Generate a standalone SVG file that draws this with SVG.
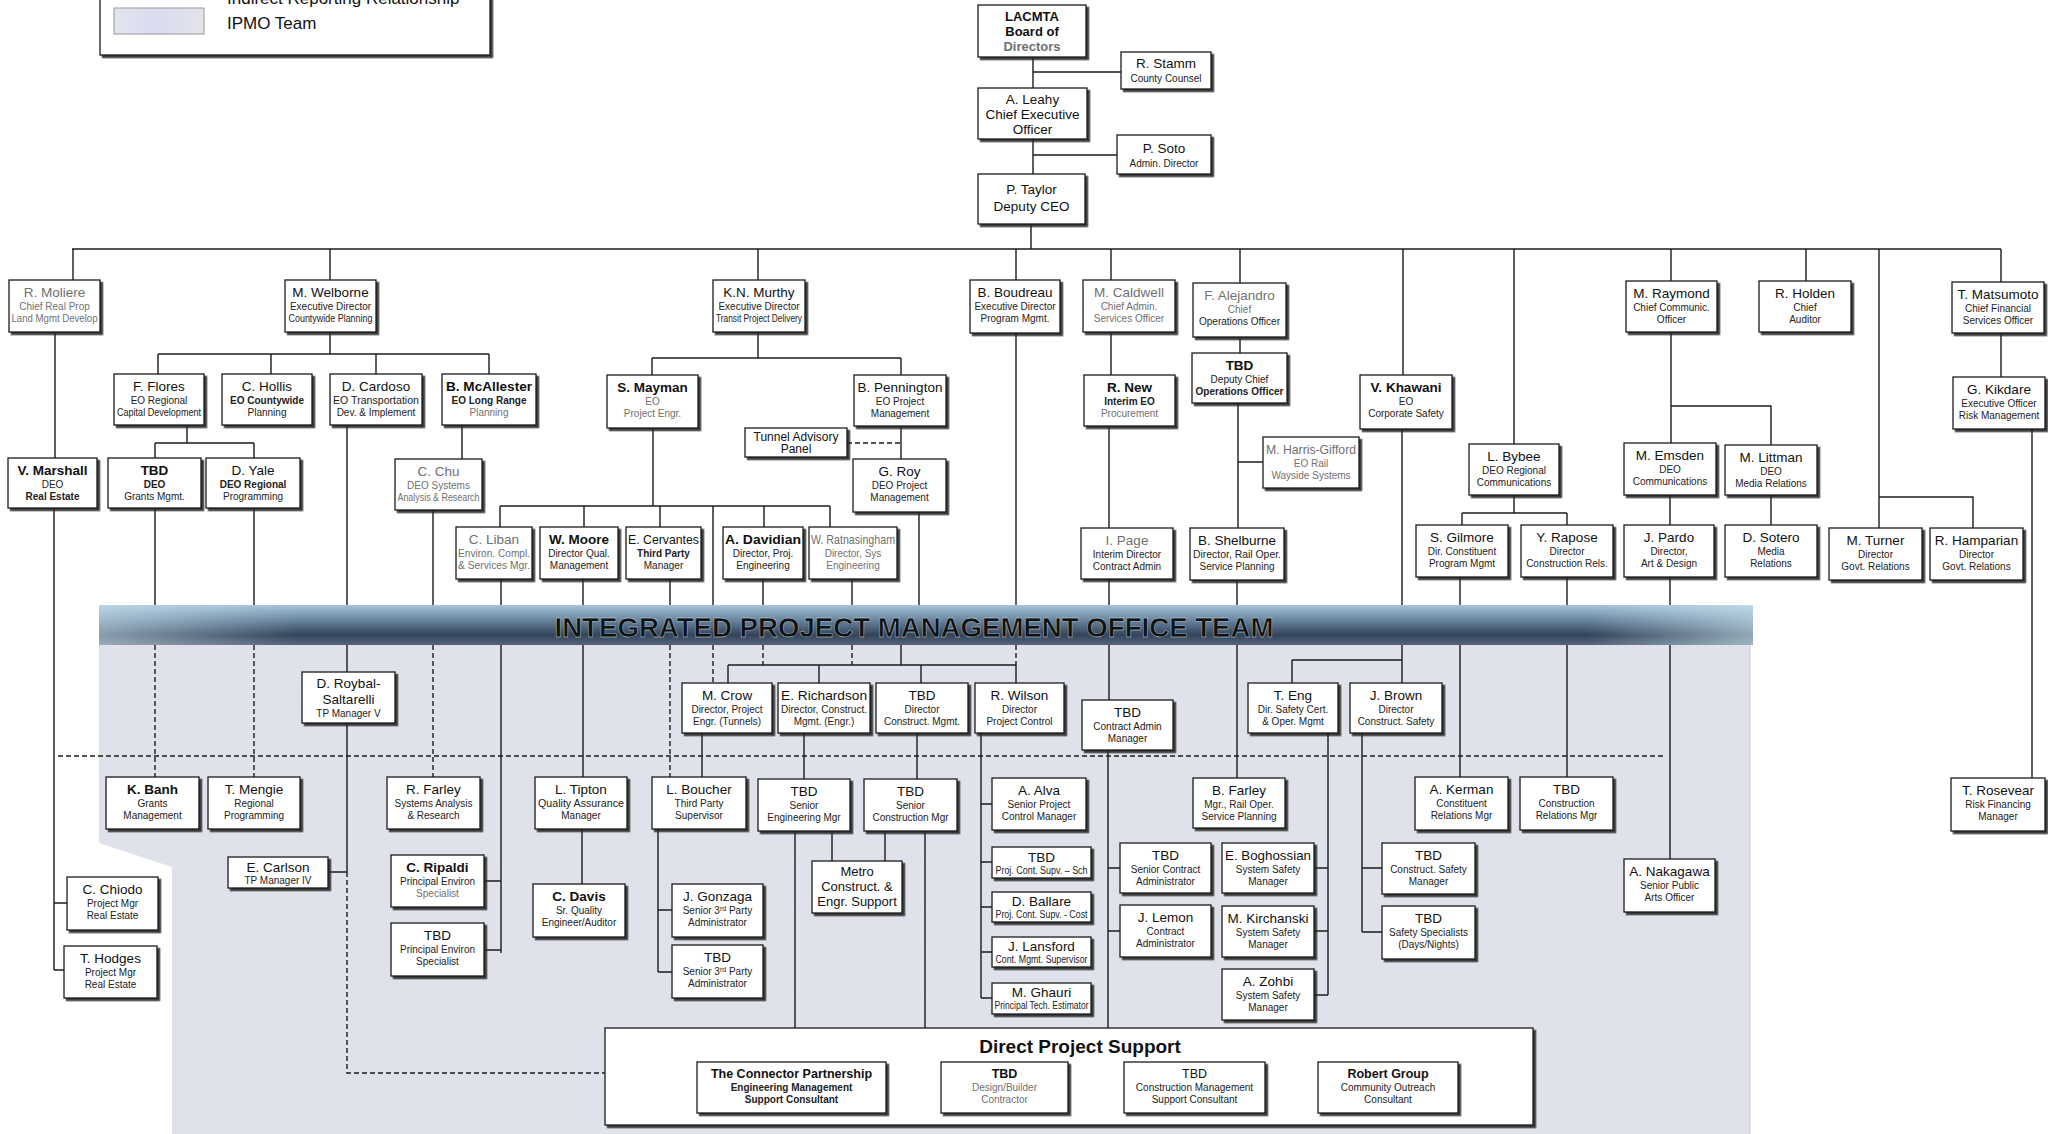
<svg xmlns="http://www.w3.org/2000/svg" width="2048" height="1134" viewBox="0 0 2048 1134">
<defs>
<filter id="sh" x="-10%" y="-10%" width="130%" height="150%"><feDropShadow dx="2.5" dy="2.5" stdDeviation="0.5" flood-color="#2a2a2a" flood-opacity="0.9"/></filter>
<linearGradient id="bg" x1="0" y1="0" x2="0" y2="1"><stop offset="0" stop-color="#a4c4d8"/><stop offset="0.35" stop-color="#6d8aa4"/><stop offset="0.75" stop-color="#33445a"/><stop offset="1" stop-color="#56667c"/></linearGradient>
<linearGradient id="bh" x1="0" y1="0" x2="1" y2="0"><stop offset="0" stop-color="#cfe4f0" stop-opacity="0.55"/><stop offset="0.12" stop-color="#cfe4f0" stop-opacity="0"/><stop offset="0.9" stop-color="#cfe4f0" stop-opacity="0"/><stop offset="1" stop-color="#cfeaf4" stop-opacity="0.6"/></linearGradient>
<linearGradient id="sw" x1="0" y1="0" x2="1" y2="0"><stop offset="0" stop-color="#e2e4ee"/><stop offset="0.5" stop-color="#d9dcf0"/><stop offset="1" stop-color="#e4e4ea"/></linearGradient>
</defs>
<style>
.c{fill:none;stroke:#1c1c1c;stroke-width:1.4}
.d{fill:none;stroke:#1c1c1c;stroke-width:1.4;stroke-dasharray:5 3}
.b{fill:#fff;stroke:#1a1a1a;stroke-width:1.3;filter:url(#sh)}
text{font-family:"Liberation Sans",Arial,sans-serif;text-anchor:middle;fill:#111}
.n{font-size:13.5px}
.t{font-size:10px;fill:#222}
.k{font-weight:bold}
.g{fill:#707070}
.l{text-anchor:start;font-size:17px}
</style>
<rect x="0" y="0" width="2048" height="1134" fill="#fff"/>

<g id="legend">
<rect class="b" x="100" y="-20" width="390" height="75"/>
<text class="l" x="227" y="4">Indirect Reporting Relationship</text>
<rect x="114" y="8" width="90" height="26" fill="url(#sw)" stroke="#9a9a9a" stroke-width="1"/>
<text class="l" x="227" y="29">IPMO Team</text>
</g>

<g id="ipmo-area">
<polygon points="99,645 1750,645 1750,1134 172,1134 172,867 99,843" fill="#dfe2eb"/>
<line x1="1750" y1="645" x2="1750" y2="1134" stroke="#c4c8d2" stroke-width="1"/>
</g>

<g id="connectors">
<path class="c" d="M1033,57V88 M1033,72H1121 M1033,139V174 M1033,155H1117 M1031,224V249 M72,249H2001 M73,249V280 M330,249V280 M758,249V280 M1016,249V280 M1111,249V280 M1240,249V283 M1403,249V375 M1514,249V444 M1671,249V281 M1806,249V281 M1879,249V528 M2001,249V282 M55,332V458 M54,508V970 M54,903H67 M54,970H64 M330,332V354 M158,354H489 M158,354V374 M271,354V374 M376,354V374 M489,354V374 M187,425V443 M155,443H254 M155,443V458 M254,443V458 M155,508V605 M254,508V605 M433,510V605 M347,425V672 M347,723V872 M328,872H347 M462,425V459 M758,332V358 M652,358H901 M652,358V375 M901,358V375 M653,428V506 M500,506H830 M500,506V527 M584,506V527 M660,506V527 M764,506V527 M830,506V527 M713,506V605 M901,426V459 M919,512V605 M901,645V665 M501,578V953 M484,881H501 M484,950H501 M583,578V777 M670,578V605 M763,580V605 M852,580V605 M1016,333V605 M728,665H1016 M728,665V683 M819,665V683 M921,665V683 M1016,665V683 M582,829V884 M702,733V777 M658,829V972 M658,910H672 M658,972H672 M804,733V779 M917,733V779 M795,831V1028 M832,831V861 M925,831V1028 M885,831V861 M981,733V998 M981,804H992 M981,862H992 M981,907H992 M981,952H992 M981,998H992 M1111,333V375 M1109,426V528 M1109,579V700 M1108,750V1028 M1108,868H1120 M1108,931H1120 M1240,337V353 M1238,403V528 M1238,462H1263 M1237,580V778 M1402,429V683 M1292,660H1402 M1292,660V683 M1328,733V995 M1314,868H1328 M1314,931H1328 M1314,995H1328 M1362,733V932 M1362,868H1382 M1362,932H1382 M1514,495V513 M1462,513H1567 M1462,513V525 M1567,513V525 M1460,577V777 M1567,577V777 M1671,332V443 M1671,406H1771V445 M1670,495V525 M1670,577V859 M1771,495V525 M1879,497H1973V528 M2001,333V377 M2032,429V778"/>
<path class="d" d="M155,645V777 M254,645V777 M433,645V777 M670,645V777 M713,645V683 M763,645V665 M852,645V665 M1016,645V665 M847,443H901 M347,872V1073H605 M58,756H1666"/>
</g>

<g id="banner">
<rect x="99" y="605" width="1654" height="40" fill="url(#bg)"/>
<rect x="99" y="605" width="1654" height="40" fill="url(#bh)"/>
<text x="914" y="637" font-size="27" font-weight="900" fill="#132a5c" stroke="#d6e2f0" stroke-width="0.35" textLength="719" lengthAdjust="spacingAndGlyphs">INTEGRATED PROJECT MANAGEMENT OFFICE TEAM</text>
</g>

<g id="n-board"><rect class="b" x="978" y="5" width="108" height="52"/><text class="k" font-size="13" x="1032" y="21">LACMTA</text><text class="k" font-size="13" x="1032" y="36">Board of</text><text class="k g" font-size="13" x="1032" y="51">Directors</text></g>
<g id="n-stamm"><rect class="b" x="1121" y="52" width="90" height="37"/><text class="n" x="1166" y="68">R. Stamm</text><text class="t" x="1166" y="82">County Counsel</text></g>
<g id="n-leahy"><rect class="b" x="978" y="88" width="109" height="51"/><text class="n" x="1032.5" y="104">A. Leahy</text><text class="n" x="1032.5" y="119">Chief Executive</text><text class="n" x="1032.5" y="134">Officer</text></g>
<g id="n-soto"><rect class="b" x="1117" y="135" width="94" height="39"/><text class="n" x="1164" y="153">P. Soto</text><text class="t" x="1164" y="167">Admin. Director</text></g>
<g id="n-taylor"><rect class="b" x="978" y="174" width="107" height="50"/><text class="n" x="1031.5" y="194">P. Taylor</text><text class="n" x="1031.5" y="211">Deputy CEO</text></g>

<g id="n-moliere"><rect class="b" x="9" y="280" width="91" height="52"/><text class="n g" x="54.5" y="297">R. Moliere</text><text class="t g" x="54.5" y="310">Chief Real Prop</text><text class="t g" x="54.5" y="322" textLength="86" lengthAdjust="spacingAndGlyphs">Land Mgmt Develop</text></g>
<g id="n-welborne"><rect class="b" x="285" y="280" width="91" height="52"/><text class="n" x="330.5" y="297">M. Welborne</text><text class="t" x="330.5" y="310">Executive Director</text><text class="t" x="330.5" y="322" textLength="84" lengthAdjust="spacingAndGlyphs">Countywide Planning</text></g>
<g id="n-murthy"><rect class="b" x="713" y="280" width="92" height="52"/><text class="n" x="759" y="297">K.N. Murthy</text><text class="t" x="759" y="310">Executive Director</text><text class="t" x="759" y="322" textLength="86" lengthAdjust="spacingAndGlyphs">Transit Project Delivery</text></g>
<g id="n-boudreau"><rect class="b" x="970" y="280" width="90" height="53"/><text class="n" x="1015" y="297">B. Boudreau</text><text class="t" x="1015" y="310">Executive Director</text><text class="t" x="1015" y="322">Program Mgmt.</text></g>
<g id="n-caldwell"><rect class="b" x="1083" y="280" width="92" height="52"/><text class="n g" x="1129" y="297">M. Caldwell</text><text class="t g" x="1129" y="310">Chief Admin.</text><text class="t g" x="1129" y="322">Services Officer</text></g>
<g id="n-alejandro"><rect class="b" x="1193" y="283" width="93" height="54"/><text class="n g" x="1239.5" y="300">F. Alejandro</text><text class="t g" x="1239.5" y="313">Chief</text><text class="t" x="1239.5" y="325">Operations Officer</text></g>
<g id="n-raymond"><rect class="b" x="1626" y="281" width="91" height="51"/><text class="n" x="1671.5" y="298">M. Raymond</text><text class="t" x="1671.5" y="311">Chief Communic.</text><text class="t" x="1671.5" y="323">Officer</text></g>
<g id="n-holden"><rect class="b" x="1759" y="281" width="92" height="51"/><text class="n" x="1805" y="298">R. Holden</text><text class="t" x="1805" y="311">Chief</text><text class="t" x="1805" y="323">Auditor</text></g>
<g id="n-matsumoto"><rect class="b" x="1952" y="282" width="92" height="51"/><text class="n" x="1998" y="299">T. Matsumoto</text><text class="t" x="1998" y="312">Chief Financial</text><text class="t" x="1998" y="324">Services Officer</text></g>

<g id="n-flores"><rect class="b" x="114" y="374" width="90" height="51"/><text class="n" x="159" y="391">F. Flores</text><text class="t" x="159" y="404">EO Regional</text><text class="t" x="159" y="416" textLength="84" lengthAdjust="spacingAndGlyphs">Capital Development</text></g>
<g id="n-hollis"><rect class="b" x="222" y="374" width="90" height="51"/><text class="n" x="267" y="391">C. Hollis</text><text class="t k" x="267" y="404">EO Countywide</text><text class="t" x="267" y="416">Planning</text></g>
<g id="n-cardoso"><rect class="b" x="330" y="374" width="92" height="51"/><text class="n" x="376" y="391">D. Cardoso</text><text class="t" x="376" y="404" textLength="86" lengthAdjust="spacingAndGlyphs">EO Transportation</text><text class="t" x="376" y="416">Dev. &amp; Implement</text></g>
<g id="n-mcallester"><rect class="b" x="442" y="374" width="94" height="51"/><text class="n k" x="489" y="391" textLength="86" lengthAdjust="spacingAndGlyphs">B. McAllester</text><text class="t k" x="489" y="404">EO Long Range</text><text class="t g" x="489" y="416">Planning</text></g>
<g id="n-mayman"><rect class="b" x="607" y="375" width="91" height="53"/><text class="n k" x="652.5" y="392">S. Mayman</text><text class="t g" x="652.5" y="405">EO</text><text class="t g" x="652.5" y="417">Project Engr.</text></g>
<g id="n-pennington"><rect class="b" x="854" y="375" width="92" height="51"/><text class="n" x="900" y="392">B. Pennington</text><text class="t" x="900" y="405">EO Project</text><text class="t" x="900" y="417">Management</text></g>
<g id="n-tbd-dcoo"><rect class="b" x="1192" y="353" width="95" height="50"/><text class="n k" x="1239.5" y="370">TBD</text><text class="t" x="1239.5" y="383">Deputy Chief</text><text class="t k" x="1239.5" y="395" textLength="88" lengthAdjust="spacingAndGlyphs">Operations Officer</text></g>
<g id="n-new"><rect class="b" x="1084" y="375" width="91" height="51"/><text class="n k" x="1129.5" y="392">R. New</text><text class="t k" x="1129.5" y="405">Interim EO</text><text class="t g" x="1129.5" y="417">Procurement</text></g>
<g id="n-khawani"><rect class="b" x="1360" y="375" width="92" height="54"/><text class="n k" x="1406" y="392">V. Khawani</text><text class="t" x="1406" y="405">EO</text><text class="t" x="1406" y="417">Corporate Safety</text></g>
<g id="n-kikdare"><rect class="b" x="1953" y="377" width="92" height="52"/><text class="n" x="1999" y="394">G. Kikdare</text><text class="t" x="1999" y="407">Executive Officer</text><text class="t" x="1999" y="419">Risk Management</text></g>

<g id="n-tunnel"><rect class="b" x="745" y="428" width="102" height="29"/><text font-size="12" x="796" y="441">Tunnel Advisory</text><text font-size="12" x="796" y="453">Panel</text></g>
<g id="n-roy"><rect class="b" x="853" y="459" width="93" height="53"/><text class="n" x="899.5" y="476">G. Roy</text><text class="t" x="899.5" y="489">DEO Project</text><text class="t" x="899.5" y="501">Management</text></g>
<g id="n-marshall"><rect class="b" x="8" y="458" width="89" height="50"/><text class="n k" x="52.5" y="475">V. Marshall</text><text class="t" x="52.5" y="488">DEO</text><text class="t k" x="52.5" y="500">Real Estate</text></g>
<g id="n-tbd-grants"><rect class="b" x="108" y="458" width="93" height="50"/><text class="n k" x="154.5" y="475">TBD</text><text class="t k" x="154.5" y="488">DEO</text><text class="t" x="154.5" y="500">Grants Mgmt.</text></g>
<g id="n-yale"><rect class="b" x="206" y="458" width="94" height="50"/><text class="n" x="253" y="475">D. Yale</text><text class="t k" x="253" y="488">DEO Regional</text><text class="t" x="253" y="500">Programming</text></g>
<g id="n-chu"><rect class="b" x="395" y="459" width="87" height="51"/><text class="n g" x="438.5" y="476">C. Chu</text><text class="t g" x="438.5" y="489">DEO Systems</text><text class="t g" x="438.5" y="501" textLength="82" lengthAdjust="spacingAndGlyphs">Analysis &amp; Research</text></g>
<g id="n-harris"><rect class="b" x="1263" y="437" width="96" height="51"/><text class="n g" x="1311" y="454" textLength="90" lengthAdjust="spacingAndGlyphs">M. Harris-Gifford</text><text class="t g" x="1311" y="467">EO Rail</text><text class="t g" x="1311" y="479">Wayside Systems</text></g>
<g id="n-bybee"><rect class="b" x="1469" y="444" width="90" height="51"/><text class="n" x="1514" y="461">L. Bybee</text><text class="t" x="1514" y="474">DEO Regional</text><text class="t" x="1514" y="486">Communications</text></g>
<g id="n-emsden"><rect class="b" x="1624" y="443" width="92" height="52"/><text class="n" x="1670" y="460">M. Emsden</text><text class="t" x="1670" y="473">DEO</text><text class="t" x="1670" y="485">Communications</text></g>
<g id="n-littman"><rect class="b" x="1725" y="445" width="92" height="50"/><text class="n" x="1771" y="462">M. Littman</text><text class="t" x="1771" y="475">DEO</text><text class="t" x="1771" y="487">Media Relations</text></g>

<g id="n-liban"><rect class="b" x="456" y="527" width="76" height="52"/><text class="n g" x="494" y="544">C. Liban</text><text class="t g" x="494" y="557" textLength="72" lengthAdjust="spacingAndGlyphs">Environ. Compl.</text><text class="t g" x="494" y="569" textLength="72" lengthAdjust="spacingAndGlyphs">&amp; Services Mgr.</text></g>
<g id="n-moore"><rect class="b" x="540" y="527" width="78" height="52"/><text class="n k" x="579" y="544">W. Moore</text><text class="t" x="579" y="557">Director Qual.</text><text class="t" x="579" y="569">Management</text></g>
<g id="n-cervantes"><rect class="b" x="626" y="527" width="75" height="52"/><text class="n" x="663.5" y="544" textLength="71" lengthAdjust="spacingAndGlyphs">E. Cervantes</text><text class="t k" x="663.5" y="557">Third Party</text><text class="t" x="663.5" y="569">Manager</text></g>
<g id="n-davidian"><rect class="b" x="723" y="527" width="80" height="52"/><text class="n k" x="763" y="544" textLength="76" lengthAdjust="spacingAndGlyphs">A. Davidian</text><text class="t" x="763" y="557">Director, Proj.</text><text class="t" x="763" y="569">Engineering</text></g>
<g id="n-ratnasingham"><rect class="b" x="809" y="527" width="88" height="52"/><text class="n g" x="853" y="544" textLength="84" lengthAdjust="spacingAndGlyphs">W. Ratnasingham</text><text class="t g" x="853" y="557">Director, Sys</text><text class="t g" x="853" y="569">Engineering</text></g>
<g id="n-page"><rect class="b" x="1081" y="528" width="92" height="51"/><text class="n g" x="1127" y="545">I. Page</text><text class="t" x="1127" y="558">Interim Director</text><text class="t" x="1127" y="570">Contract Admin</text></g>
<g id="n-shelburne"><rect class="b" x="1190" y="528" width="94" height="52"/><text class="n" x="1237" y="545">B. Shelburne</text><text class="t" x="1237" y="558" textLength="88" lengthAdjust="spacingAndGlyphs">Director, Rail Oper.</text><text class="t" x="1237" y="570">Service Planning</text></g>
<g id="n-gilmore"><rect class="b" x="1416" y="525" width="92" height="52"/><text class="n" x="1462" y="542">S. Gilmore</text><text class="t" x="1462" y="555">Dir. Constituent</text><text class="t" x="1462" y="567">Program Mgmt</text></g>
<g id="n-rapose"><rect class="b" x="1521" y="525" width="92" height="52"/><text class="n" x="1567" y="542">Y. Rapose</text><text class="t" x="1567" y="555">Director</text><text class="t" x="1567" y="567">Construction Rels.</text></g>
<g id="n-pardo"><rect class="b" x="1624" y="525" width="90" height="52"/><text class="n" x="1669" y="542">J. Pardo</text><text class="t" x="1669" y="555">Director,</text><text class="t" x="1669" y="567">Art &amp; Design</text></g>
<g id="n-sotero"><rect class="b" x="1725" y="525" width="92" height="52"/><text class="n" x="1771" y="542">D. Sotero</text><text class="t" x="1771" y="555">Media</text><text class="t" x="1771" y="567">Relations</text></g>
<g id="n-turner"><rect class="b" x="1829" y="528" width="93" height="52"/><text class="n" x="1875.5" y="545">M. Turner</text><text class="t" x="1875.5" y="558">Director</text><text class="t" x="1875.5" y="570">Govt. Relations</text></g>
<g id="n-hamparian"><rect class="b" x="1930" y="528" width="93" height="52"/><text class="n" x="1976.5" y="545">R. Hamparian</text><text class="t" x="1976.5" y="558">Director</text><text class="t" x="1976.5" y="570">Govt. Relations</text></g>

<g id="n-roybal"><rect class="b" x="302" y="672" width="93" height="51"/><text class="n" x="348.5" y="688">D. Roybal-</text><text class="n" x="348.5" y="704">Saltarelli</text><text class="t" x="348.5" y="717">TP Manager V</text></g>
<g id="n-crow"><rect class="b" x="682" y="683" width="90" height="50"/><text class="n" x="727" y="700">M. Crow</text><text class="t" x="727" y="713">Director, Project</text><text class="t" x="727" y="725">Engr. (Tunnels)</text></g>
<g id="n-richardson"><rect class="b" x="778" y="683" width="92" height="50"/><text class="n" x="824" y="700" textLength="86" lengthAdjust="spacingAndGlyphs">E. Richardson</text><text class="t" x="824" y="713" textLength="86" lengthAdjust="spacingAndGlyphs">Director, Construct.</text><text class="t" x="824" y="725">Mgmt. (Engr.)</text></g>
<g id="n-tbd-dcm"><rect class="b" x="876" y="683" width="92" height="50"/><text class="n" x="922" y="700">TBD</text><text class="t" x="922" y="713">Director</text><text class="t" x="922" y="725">Construct. Mgmt.</text></g>
<g id="n-wilson"><rect class="b" x="975" y="683" width="89" height="50"/><text class="n" x="1019.5" y="700">R. Wilson</text><text class="t" x="1019.5" y="713">Director</text><text class="t" x="1019.5" y="725">Project Control</text></g>
<g id="n-tbd-cam"><rect class="b" x="1082" y="700" width="91" height="50"/><text class="n" x="1127.5" y="717">TBD</text><text class="t" x="1127.5" y="730">Contract Admin</text><text class="t" x="1127.5" y="742">Manager</text></g>
<g id="n-eng"><rect class="b" x="1248" y="683" width="90" height="50"/><text class="n" x="1293" y="700">T. Eng</text><text class="t" x="1293" y="713">Dir. Safety Cert.</text><text class="t" x="1293" y="725">&amp; Oper. Mgmt</text></g>
<g id="n-brown"><rect class="b" x="1350" y="683" width="92" height="50"/><text class="n" x="1396" y="700">J. Brown</text><text class="t" x="1396" y="713">Director</text><text class="t" x="1396" y="725">Construct. Safety</text></g>

<g id="n-banh"><rect class="b" x="106" y="777" width="93" height="52"/><text class="n k" x="152.5" y="794">K. Banh</text><text class="t" x="152.5" y="807">Grants</text><text class="t" x="152.5" y="819">Management</text></g>
<g id="n-mengie"><rect class="b" x="208" y="777" width="92" height="52"/><text class="n" x="254" y="794">T. Mengie</text><text class="t" x="254" y="807">Regional</text><text class="t" x="254" y="819">Programming</text></g>
<g id="n-farley-r"><rect class="b" x="387" y="777" width="93" height="52"/><text class="n" x="433.5" y="794">R. Farley</text><text class="t" x="433.5" y="807">Systems Analysis</text><text class="t" x="433.5" y="819">&amp; Research</text></g>
<g id="n-tipton"><rect class="b" x="535" y="777" width="92" height="52"/><text class="n" x="581" y="794">L. Tipton</text><text class="t" x="581" y="807" textLength="86" lengthAdjust="spacingAndGlyphs">Quality Assurance</text><text class="t" x="581" y="819">Manager</text></g>
<g id="n-boucher"><rect class="b" x="652" y="777" width="94" height="52"/><text class="n" x="699" y="794">L. Boucher</text><text class="t" x="699" y="807">Third Party</text><text class="t" x="699" y="819">Supervisor</text></g>
<g id="n-tbd-sem"><rect class="b" x="758" y="779" width="92" height="52"/><text class="n" x="804" y="796">TBD</text><text class="t" x="804" y="809">Senior</text><text class="t" x="804" y="821">Engineering Mgr</text></g>
<g id="n-tbd-scm"><rect class="b" x="864" y="779" width="93" height="52"/><text class="n" x="910.5" y="796">TBD</text><text class="t" x="910.5" y="809">Senior</text><text class="t" x="910.5" y="821">Construction Mgr</text></g>
<g id="n-alva"><rect class="b" x="992" y="778" width="94" height="52"/><text class="n" x="1039" y="795">A. Alva</text><text class="t" x="1039" y="808">Senior Project</text><text class="t" x="1039" y="820">Control Manager</text></g>
<g id="n-farley-b"><rect class="b" x="1193" y="778" width="92" height="50"/><text class="n" x="1239" y="795">B. Farley</text><text class="t" x="1239" y="808">Mgr., Rail Oper.</text><text class="t" x="1239" y="820">Service Planning</text></g>
<g id="n-kerman"><rect class="b" x="1415" y="777" width="93" height="53"/><text class="n" x="1461.5" y="794">A. Kerman</text><text class="t" x="1461.5" y="807">Constituent</text><text class="t" x="1461.5" y="819">Relations Mgr</text></g>
<g id="n-tbd-crm"><rect class="b" x="1520" y="777" width="93" height="53"/><text class="n" x="1566.5" y="794">TBD</text><text class="t" x="1566.5" y="807">Construction</text><text class="t" x="1566.5" y="819">Relations Mgr</text></g>
<g id="n-rosevear"><rect class="b" x="1951" y="778" width="94" height="53"/><text class="n" x="1998" y="795">T. Rosevear</text><text class="t" x="1998" y="808">Risk Financing</text><text class="t" x="1998" y="820">Manager</text></g>

<g id="n-carlson"><rect class="b" x="228" y="857" width="100" height="31"/><text class="n" x="278" y="872">E. Carlson</text><text class="t" x="278" y="884">TP Manager IV</text></g>
<g id="n-ripaldi"><rect class="b" x="391" y="855" width="93" height="52"/><text class="n k" x="437.5" y="872">C. Ripaldi</text><text class="t" x="437.5" y="885">Principal Environ</text><text class="t g" x="437.5" y="897">Specialist</text></g>
<g id="n-tbd-pes"><rect class="b" x="391" y="923" width="93" height="53"/><text class="n" x="437.5" y="940">TBD</text><text class="t" x="437.5" y="953">Principal Environ</text><text class="t" x="437.5" y="965">Specialist</text></g>
<g id="n-davis"><rect class="b" x="533" y="884" width="92" height="53"/><text class="n k" x="579" y="901">C. Davis</text><text class="t" x="579" y="914">Sr. Quality</text><text class="t" x="579" y="926">Engineer/Auditor</text></g>
<g id="n-gonzaga"><rect class="b" x="672" y="884" width="91" height="53"/><text class="n" x="717.5" y="901">J. Gonzaga</text><text class="t" x="717.5" y="914">Senior 3<tspan font-size="7" dy="-3">rd</tspan><tspan dy="3"> Party</tspan></text><text class="t" x="717.5" y="926">Administrator</text></g>
<g id="n-tbd-s3p"><rect class="b" x="672" y="945" width="91" height="53"/><text class="n" x="717.5" y="962">TBD</text><text class="t" x="717.5" y="975">Senior 3<tspan font-size="7" dy="-3">rd</tspan><tspan dy="3"> Party</tspan></text><text class="t" x="717.5" y="987">Administrator</text></g>
<g id="n-metro"><rect class="b" x="812" y="861" width="90" height="52"/><text font-size="13" x="857" y="876">Metro</text><text font-size="13" x="857" y="891">Construct. &amp;</text><text font-size="13" x="857" y="906">Engr. Support</text></g>
<g id="n-tbd-sch"><rect class="b" x="992" y="847" width="99" height="31"/><text class="n" x="1041.5" y="862">TBD</text><text class="t" font-size="8.5" x="1041.5" y="874" textLength="92" lengthAdjust="spacingAndGlyphs">Proj. Cont. Supv. – Sch</text></g>
<g id="n-ballare"><rect class="b" x="992" y="892" width="99" height="30"/><text class="n" x="1041.5" y="906">D. Ballare</text><text class="t" font-size="8.5" x="1041.5" y="918" textLength="92" lengthAdjust="spacingAndGlyphs">Proj. Cont. Supv. - Cost</text></g>
<g id="n-lansford"><rect class="b" x="992" y="937" width="99" height="30"/><text class="n" x="1041.5" y="951">J. Lansford</text><text class="t" font-size="8.5" x="1041.5" y="963" textLength="92" lengthAdjust="spacingAndGlyphs">Cont. Mgmt. Supervisor</text></g>
<g id="n-ghauri"><rect class="b" x="992" y="983" width="99" height="31"/><text class="n" x="1041.5" y="997">M. Ghauri</text><text class="t" font-size="8.5" x="1041.5" y="1009" textLength="94" lengthAdjust="spacingAndGlyphs">Principal Tech. Estimator</text></g>
<g id="n-tbd-sca"><rect class="b" x="1120" y="843" width="91" height="50"/><text class="n" x="1165.5" y="860">TBD</text><text class="t" x="1165.5" y="873">Senior Contract</text><text class="t" x="1165.5" y="885">Administrator</text></g>
<g id="n-lemon"><rect class="b" x="1120" y="905" width="91" height="52"/><text class="n" x="1165.5" y="922">J. Lemon</text><text class="t" x="1165.5" y="935">Contract</text><text class="t" x="1165.5" y="947">Administrator</text></g>
<g id="n-boghossian"><rect class="b" x="1222" y="843" width="92" height="50"/><text class="n" x="1268" y="860" textLength="86" lengthAdjust="spacingAndGlyphs">E. Boghossian</text><text class="t" x="1268" y="873">System Safety</text><text class="t" x="1268" y="885">Manager</text></g>
<g id="n-kirchanski"><rect class="b" x="1222" y="906" width="92" height="51"/><text class="n" x="1268" y="923">M. Kirchanski</text><text class="t" x="1268" y="936">System Safety</text><text class="t" x="1268" y="948">Manager</text></g>
<g id="n-zohbi"><rect class="b" x="1222" y="969" width="92" height="51"/><text class="n" x="1268" y="986">A. Zohbi</text><text class="t" x="1268" y="999">System Safety</text><text class="t" x="1268" y="1011">Manager</text></g>
<g id="n-tbd-csm"><rect class="b" x="1382" y="843" width="93" height="51"/><text class="n" x="1428.5" y="860">TBD</text><text class="t" x="1428.5" y="873">Construct. Safety</text><text class="t" x="1428.5" y="885">Manager</text></g>
<g id="n-tbd-ss"><rect class="b" x="1382" y="906" width="93" height="53"/><text class="n" x="1428.5" y="923">TBD</text><text class="t" x="1428.5" y="936">Safety Specialists</text><text class="t" x="1428.5" y="948">(Days/Nights)</text></g>
<g id="n-nakagawa"><rect class="b" x="1624" y="859" width="91" height="53"/><text class="n" x="1669.5" y="876">A. Nakagawa</text><text class="t" x="1669.5" y="889">Senior Public</text><text class="t" x="1669.5" y="901">Arts Officer</text></g>
<g id="n-chiodo"><rect class="b" x="67" y="877" width="91" height="53"/><text class="n" x="112.5" y="894">C. Chiodo</text><text class="t" x="112.5" y="907">Project Mgr</text><text class="t" x="112.5" y="919">Real Estate</text></g>
<g id="n-hodges"><rect class="b" x="64" y="946" width="93" height="52"/><text class="n" x="110.5" y="963">T. Hodges</text><text class="t" x="110.5" y="976">Project Mgr</text><text class="t" x="110.5" y="988">Real Estate</text></g>

<g id="n-dps">
<rect class="b" x="605" y="1028" width="928" height="97"/>
<text class="k" font-size="19" x="1080" y="1053">Direct Project Support</text>
</g>
<g id="n-connector"><rect class="b" x="697" y="1062" width="189" height="51"/><text class="k" font-size="12.5" x="791.5" y="1078">The Connector Partnership</text><text class="t k" x="791.5" y="1091">Engineering Management</text><text class="t k" x="791.5" y="1103">Support Consultant</text></g>
<g id="n-tbd-db"><rect class="b" x="941" y="1062" width="127" height="51"/><text class="k" font-size="12.5" x="1004.5" y="1078">TBD</text><text class="t g" x="1004.5" y="1091">Design/Builder</text><text class="t g" x="1004.5" y="1103">Contractor</text></g>
<g id="n-tbd-cmsc"><rect class="b" x="1124" y="1062" width="141" height="51"/><text font-size="12.5" x="1194.5" y="1078">TBD</text><text class="t" x="1194.5" y="1091">Construction Management</text><text class="t" x="1194.5" y="1103">Support Consultant</text></g>
<g id="n-robert"><rect class="b" x="1318" y="1062" width="140" height="51"/><text class="k" font-size="12.5" x="1388" y="1078">Robert Group</text><text class="t" x="1388" y="1091">Community Outreach</text><text class="t" x="1388" y="1103">Consultant</text></g>
</svg>
